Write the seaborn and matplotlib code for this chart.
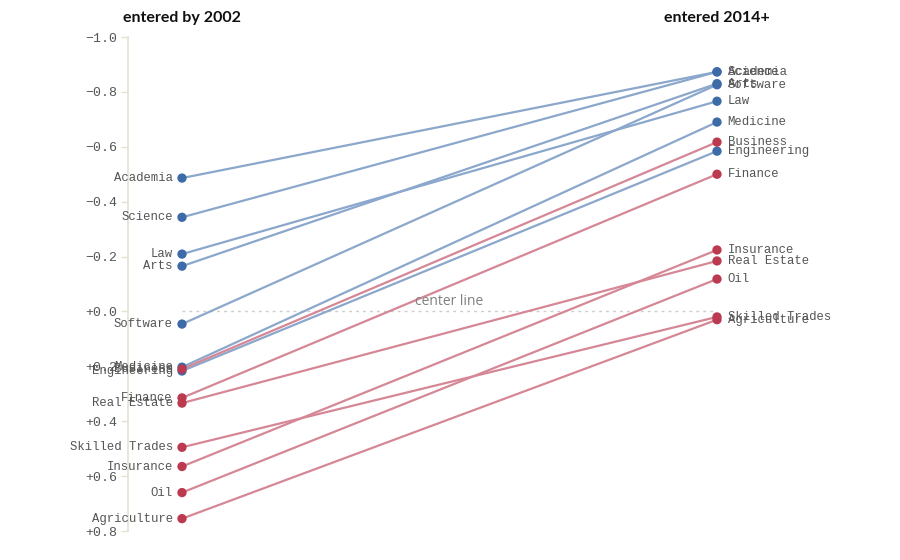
import numpy as np
import pandas as pd
import matplotlib
matplotlib.use('Agg')
import matplotlib.pyplot as plt
import seaborn as sns

# =========== DATA =============
jobs = ['Academia', 'Science', 'Law', 'Arts', 'Software', 'Medicine', 'Engineering',
        'Business', 'Finance', 'Real Estate', 'Skilled Trades', 'Insurance', 'Oil', 'Agriculture']
groups = ['blue'] * 7 + ['red'] * 7
before_2002 = [-0.486, -0.343, -0.209, -0.165, 0.046, 0.203, 0.217,
               0.210, 0.315, 0.334, 0.495, 0.565, 0.660, 0.755]
after_2014 = [-0.873, -0.873, -0.766, -0.830, -0.826, -0.690, -0.584,
              -0.617, -0.500, -0.184, 0.020, -0.224, -0.118, 0.030]
column_titles = ['entered by 2002', 'entered 2014+']
y_ticks = [-1.0, -0.8, -0.6, -0.4, -0.2, 0.0, 0.2, 0.4, 0.6, 0.8]

point_colors = {'blue': '#3d6ba8', 'red': '#bb3a50'}
line_colors = {'blue': '#8ba7cb', 'red': '#d58796'}

# long table for seaborn
df = pd.DataFrame({
    'job': jobs * 2,
    'group': groups * 2,
    'x': [0] * len(jobs) + [1] * len(jobs),
    'score': before_2002 + after_2014,
})

sns.set_style('white')
mono = 'Liberation Mono'
text_grey = '#555555'

fig = plt.figure(figsize=(9, 5.6), dpi=100)
ax = fig.add_axes([128 / 900, 1 - 531 / 560, (870 - 128) / 900, (531 - 37) / 560])

# center line
ax.axhline(0, xmin=(182 - 128) / 742, xmax=(717 - 128) / 742, color='#cccccc',
           lw=1, ls=(0, (2, 3)), zorder=0)
ax.text(0.5, -0.01, 'center line', ha='center', va='bottom', fontsize=10,
        color='#808080', family='Open Sans')

sns.lineplot(data=df, x='x', y='score', units='job', hue='group', estimator=None,
             palette=line_colors, lw=1.6, legend=False, ax=ax, zorder=1)
sns.scatterplot(data=df, x='x', y='score', hue='group', palette=point_colors,
                s=45, edgecolor='none', legend=False, ax=ax, zorder=3)

for job, a, b in zip(jobs, before_2002, after_2014):
    ax.text(-0.017, a, job, ha='right', va='center', fontsize=8.8, color=text_grey, family=mono)
    ax.text(1.02, b, job, ha='left', va='center', fontsize=8.8, color=text_grey, family=mono)

for xpos, title in zip([0, 1], column_titles):
    ax.text(xpos, -1.055, title, ha='center', va='baseline', fontsize=11.5,
            fontweight='bold', color='#111111', family='Lato')

ax.set_xlim((128 - 182) / 535, (870 - 182) / 535)
ax.set_ylim(0.8, -1.0)
ax.set_yticks(y_ticks)
ax.set_yticklabels([('+' if t >= 0 else '\u2212') + f'{abs(t):.1f}' for t in y_ticks],
                   family=mono, fontsize=9.5, color=text_grey)
ax.tick_params(axis='y', length=5, width=1, color='#e6e2d2', pad=3, left=True)
ax.set_xticks([])
ax.set_xlabel('')
ax.set_ylabel('')
for side in ['top', 'right', 'bottom']:
    ax.spines[side].set_visible(False)
ax.spines['left'].set_color('#e6e2d2')
ax.spines['left'].set_linewidth(1.2)

fig.savefig('out.png', dpi=100)
plt.close()
